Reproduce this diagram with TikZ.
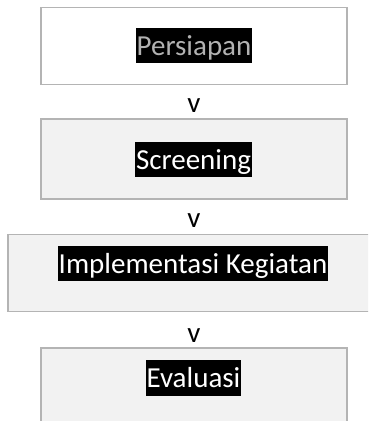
\documentclass[tikz,border=0pt]{standalone}
\usepackage{fontspec}
\setmainfont{Carlito}
\usetikzlibrary{positioning}
\definecolor{boxline}{RGB}{180,180,180}
\definecolor{boxfill}{RGB}{242,242,242}

\gdef\Pfill{white}
\gdef\Sfill{boxfill}
\gdef\Ifill{boxfill}
\gdef\Efill{boxfill}
\gdef\Pdesc{Persiapan}
\gdef\Sdesc{Screening}
\gdef\Idesc{Implementasi Kegiatan}
\gdef\Edesc{Evaluasi}

\begin{document}
\begin{tikzpicture}[x=1pt, y=-1pt, font=\fontsize{29}{35}\selectfont,
  kotak/.style={draw=boxline, line width=1.5pt, minimum width=306pt, minimum height=77pt, inner sep=0pt},
  sorot/.style={fill=black, text=white, inner xsep=1pt, inner ysep=0pt, text height=27.5pt, text depth=7.8pt},
  tanda/.style={inner sep=0pt}]

\useasboundingbox (0,0) rectangle (368,421);
\clip (0,0) rectangle (368,421);

\node[kotak, fill=\Pfill] (P) at (194,46) {};
\node[sorot, text=white!70!black] (Ptext) at (194,45.5) {\Pdesc};
\node[tanda] (v1) at (194,105.5) {v};

\node[kotak, fill=\Sfill, minimum height=80pt] (S) at (194,159) {};
\node[sorot] (Stext) at (193.5,159.5) {\Sdesc};
\node[tanda] (v2) at (194,220.5) {v};

\node[kotak, fill=\Ifill, minimum width=372pt] (I) at (194,273) {};
\node[sorot] (Itext) at (193,263.7) {\Idesc};
\node[tanda] (v3) at (194,336) {v};

\node[kotak, fill=\Efill, minimum height=80pt] (E) at (194,388) {};
\node[sorot] (Etext) at (193.5,378) {\Edesc};

\end{tikzpicture}
\end{document}
